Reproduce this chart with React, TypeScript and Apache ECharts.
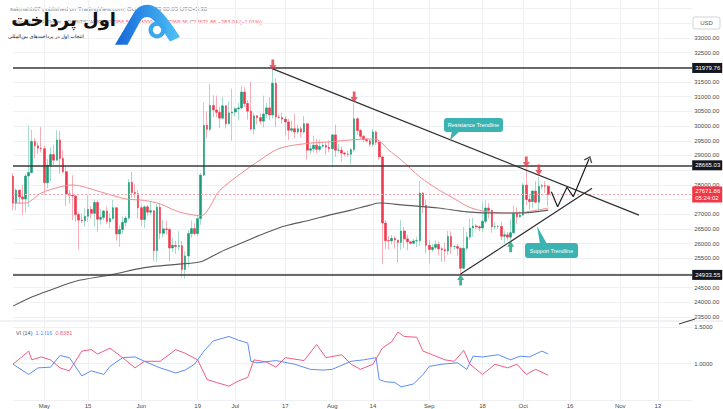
import React, { useEffect, useRef } from "react";
import * as echarts from "echarts";

// ---------- categories (daily, from 2023-04-21) ----------
const START = Date.UTC(2023, 3, 21);
const DAY = 86400000;
const N_DAYS = 218;
const categories: string[] = Array.from({ length: N_DAYS }, (_, i) =>
  new Date(START + i * DAY).toISOString().slice(0, 10)
);

// ---------- x tick labels ----------
const tickDates = [
  "2023-05-01", "2023-05-15", "2023-06-01", "2023-06-19", "2023-07-01", "2023-07-17", "2023-08-01",
  "2023-08-14", "2023-09-01", "2023-09-18", "2023-10-01", "2023-10-16", "2023-11-01", "2023-11-13",
];
const tickLabels = ["May", "15", "Jun", "19", "Jul", "17", "Aug", "14", "Sep", "18", "Oct", "16", "Nov", "13"];

// ---------- price candles [open, high, low, close], 2023-04-21 .. 2023-10-09 ----------
const ohlc: number[][] = [
  // Apr 21-30
  [28300, 28400, 27140, 27380], [27380, 27880, 27130, 27820], [27820, 27820, 27340, 27590], [27590, 28000, 26970, 27520],
  [27520, 28380, 27050, 28300], [28300, 30020, 27240, 28420], [28420, 29880, 28380, 29480], [29480, 29590, 28900, 29330],
  [29330, 29450, 29050, 29250], [29250, 29970, 29100, 29230],
  // May
  [29230, 29330, 27680, 28070], [28070, 28880, 27880, 28670], [28670, 29270, 28110, 29030], [29030, 29370, 28680, 28840],
  [28840, 29860, 28820, 29530], [29530, 29840, 28380, 28900], [28900, 29180, 28400, 28450], [28450, 28630, 27280, 27690],
  [27690, 27830, 27360, 27650], [27650, 28330, 26800, 27620], [27620, 27640, 26740, 26990], [26990, 27070, 25800, 26800],
  [26800, 27030, 26700, 26780], [26780, 27200, 26580, 26930], [26930, 27660, 26730, 27160], [27160, 27270, 26860, 27030],
  [27030, 27480, 26580, 27400], [27400, 27480, 26400, 26830], [26830, 27170, 26640, 26890], [26890, 27150, 26800, 27110],
  [27110, 27260, 26660, 26750], [26750, 27030, 26530, 26850], [26850, 27480, 26820, 27220], [27220, 27220, 26100, 26330],
  [26330, 26620, 25890, 26480], [26480, 26930, 26330, 26720], [26720, 26940, 26580, 26870], [26870, 28200, 26800, 28080],
  [28080, 28440, 27560, 27740], [27740, 28020, 27560, 27700], [27700, 27830, 26850, 27220],
  // Jun
  [27220, 27330, 26610, 26820], [26820, 27300, 26530, 27250], [27250, 27310, 26930, 27070], [27070, 27450, 26960, 27120],
  [27120, 27140, 25400, 25760], [25760, 27350, 25370, 27240], [27240, 27390, 26150, 26350], [26350, 26800, 26210, 26500],
  [26500, 26780, 26310, 26480], [26480, 26540, 25400, 25850], [25850, 26200, 25710, 25940], [25940, 26100, 25650, 25900],
  [25900, 26420, 25750, 25930], [25930, 26090, 24850, 25120], [25120, 25740, 24800, 25580], [25580, 26460, 25190, 26340],
  [26340, 26780, 26190, 26510], [26510, 26690, 26280, 26340], [26340, 26980, 26250, 26850], [26850, 28400, 26640, 28330],
  [28330, 30800, 28300, 30030], [30030, 30500, 29600, 29890], [29890, 31430, 29820, 30700], [30700, 31050, 30300, 30550],
  [30550, 31040, 30300, 30470], [30470, 30660, 29930, 30270], [30270, 31000, 30230, 30690], [30690, 30710, 29920, 30080],
  [30080, 30840, 30050, 30450], [30450, 31280, 29500, 30480],
  // Jul
  [30480, 30660, 30330, 30590], [30590, 30790, 30190, 30620], [30620, 31380, 30580, 31160], [31160, 31330, 30650, 30770],
  [30770, 30880, 30220, 30510], [30510, 31520, 29850, 29900], [29900, 30450, 29720, 30350], [30350, 30380, 30060, 30290],
  [30290, 30440, 30060, 30170], [30170, 31040, 29950, 30410], [30410, 30800, 30270, 30620], [30620, 30980, 30200, 30380],
  [30380, 31950, 30250, 31460], [31460, 31630, 29960, 30310], [30310, 30400, 30260, 30290], [30290, 30450, 30100, 30240],
  [30240, 30340, 29680, 30140], [30140, 30240, 29530, 29860], [29860, 30190, 29770, 29910], [29910, 30410, 29580, 29800],
  [29800, 30050, 29730, 29910], [29910, 29990, 29620, 29800], [29800, 30340, 29740, 30080], [30080, 30090, 28860, 29180],
  [29180, 29380, 29050, 29230], [29230, 29680, 29100, 29350], [29350, 29570, 29080, 29210], [29210, 29530, 29130, 29310],
  [29310, 29410, 29260, 29350], [29350, 29450, 29030, 29280], [29280, 29520, 29110, 29230],
  // Aug
  [29230, 29730, 28590, 29700], [29700, 30050, 28950, 29180], [29180, 29400, 29100, 29180], [29180, 29310, 28800, 29080],
  [29080, 29120, 28970, 29050], [29050, 29160, 28960, 29040], [29040, 29250, 28700, 29200], [29200, 30780, 29100, 30250],
  [30250, 30300, 29700, 29850], [29850, 29900, 29550, 29650], [29650, 29700, 29450, 29550], [29550, 29600, 29450, 29500],
  [29500, 29550, 29300, 29380], [29380, 29900, 29300, 29800], [29800, 29850, 29350, 29450], [29450, 29500, 28850, 28950],
  [28950, 29000, 25300, 26700], [26700, 26800, 25820, 26100], [26100, 26260, 25800, 26090], [26090, 26290, 25970, 26180],
  [26180, 26250, 25830, 26120], [26120, 26130, 25350, 26040], [26040, 26800, 25790, 26430], [26430, 26560, 25860, 26160],
  [26160, 26300, 25770, 26060], [26060, 26100, 25970, 26010], [26010, 26170, 25980, 26090], [26090, 26230, 25880, 26100],
  [26100, 28140, 25920, 27720], [27720, 27760, 27030, 27300], [27300, 27500, 25660, 25940],
  // Sep
  [25940, 26130, 25330, 25800], [25800, 25980, 25720, 25870], [25870, 26110, 25790, 25970], [25970, 26070, 25610, 25820],
  [25820, 25890, 25380, 25790], [25790, 26030, 25390, 25750], [25750, 26440, 25620, 26240], [26240, 26420, 25640, 25900],
  [25900, 25940, 25800, 25900], [25900, 25990, 25580, 25840], [25840, 25880, 24930, 25160], [25160, 26560, 25130, 25840],
  [25840, 26390, 25770, 26220], [26220, 26840, 26130, 26530], [26530, 26880, 26230, 26600], [26600, 26670, 26480, 26570],
  [26570, 26620, 26420, 26530], [26530, 27420, 26390, 26760], [26760, 27480, 26680, 27210], [27210, 27380, 26850, 27130],
  [27130, 27160, 26370, 26570], [26570, 26730, 26480, 26580], [26580, 26630, 26500, 26580], [26580, 26740, 26120, 26250],
  [26250, 26430, 26000, 26300], [26300, 26400, 26100, 26220], [26220, 26830, 26110, 26370], [26370, 27300, 26340, 27030],
  [27030, 27230, 26680, 26910], [26910, 27100, 26880, 26970],
  // Oct 1-9
  [26970, 28060, 26940, 27990], [27990, 28580, 27300, 27500], [27500, 27670, 27160, 27430], [27430, 27830, 27220, 27790],
  [27790, 28120, 27370, 27410], [27410, 28270, 27170, 27950], [27950, 28040, 27850, 27970], [27970, 28120, 27720, 27955],
  [27956, 28000, 27268.36, 27671.86],
];

// ---------- moving averages: [day index since 2023-04-21, value] ----------
const ma50Points: number[][] = [
  [0, 27380], [4, 27380], [9, 27720], [15, 27930], [19, 27995], [28, 27760], [36, 27520], [42, 27470], [47, 27350],
  [53, 27080], [60, 26950], [66, 27800], [73, 28400], [79, 28850], [84, 29190], [88, 29320], [95, 29420], [101, 29460],
  [108, 29530], [114, 29560], [117, 29500], [120, 29190], [124, 28850], [130, 28270], [136, 27830], [140, 27590],
  [146, 27230], [152, 27080], [159, 27040], [164, 27080], [171, 27210],
];
const ma200Points: number[][] = [
  [0, 23870], [6, 24180], [12, 24420], [20, 24720], [31, 24930], [42, 25180], [53, 25300], [60, 25380], [66, 25700],
  [73, 26020], [79, 26290], [84, 26500], [88, 26630], [95, 26800], [101, 26970], [108, 27140], [114, 27310],
  [117, 27380], [125, 27310], [136, 27210], [145, 27080], [156, 27040], [162, 27040], [171, 27140],
];

// ---------- horizontal levels ----------
const levels = [31979.76, 28665.03, 24933.55];
const lastPrice = 27671.86;
const lastPriceTimer = "05:24:02";

// ---------- drawings: [day index, price] ----------
const resistanceLine = [[83, 31950], [200, 26970]];
const supportLine = [[143, 24960], [185, 27880]];
const projection = [[172, 27767], [174, 27256], [177, 27917], [179, 27597], [184, 28870]];
const redArrows = [[83, 32080], [109, 30990], [164, 28780], [168, 28505]];
const greenArrows = [[143, 24760], [159, 25895]];

// ---------- Vortex indicator VI(14): [day index, value] ----------
const viPlus: number[][] = [
  [0, 0.99], [5, 0.85], [8, 0.94], [12, 0.95], [15, 1.11], [18, 1.08], [22, 0.83], [25, 0.9], [29, 0.85], [31, 0.96],
  [35, 1.08], [39, 1.09], [42, 1.03], [47, 0.94], [52, 0.87], [55, 0.91], [58, 0.99], [61, 1.17], [64, 1.31], [69, 1.37],
  [72, 1.32], [75, 1.28], [76, 1.03], [78, 1.01], [84, 1.04], [90, 0.99], [95, 0.92], [99, 0.91], [102, 0.92],
  [108, 1.03], [112, 1.05], [116, 1.08], [117, 0.78], [119, 0.75], [122, 0.74], [124, 0.68], [128, 0.72], [131, 0.85],
  [133, 0.96], [137, 0.99], [142, 1.01], [145, 0.92], [147, 1.1], [150, 1.09], [155, 1.12], [159, 1.05], [162, 1.1],
  [165, 1.09], [169, 1.17], [171, 1.13],
];
const viMinus: number[][] = [
  [0, 0.99], [5, 1.17], [6, 1.05], [9, 1.09], [12, 1.05], [15, 0.94], [18, 0.9], [22, 1.17], [25, 1.19], [27, 1.13],
  [31, 1.21], [35, 1.08], [39, 0.94], [42, 1.03], [47, 1.03], [52, 1.19], [55, 1.14], [59, 1.05], [62, 0.78],
  [65, 0.74], [69, 0.69], [72, 0.76], [75, 0.81], [77, 1.05], [81, 1.02], [84, 0.95], [87, 1.08], [93, 1.04],
  [97, 1.26], [100, 1.08], [105, 1.12], [108, 0.99], [111, 0.92], [115, 0.99], [118, 1.21], [121, 1.3], [123, 1.43],
  [125, 1.37], [129, 1.36], [131, 1.17], [134, 1.12], [138, 1.05], [141, 1.03], [144, 1.18], [146, 0.99], [150, 0.85],
  [154, 0.99], [158, 0.94], [161, 0.99], [164, 0.85], [167, 0.92], [171, 0.84],
];
const viLegend = { plus: "1.1316", minus: "0.8381" };

// ---------- styling ----------
const UP = "#1b9e77";
const DOWN = "#ef3b4f";
const UP_WICK = "#a8dccd";
const DOWN_WICK = "#f6afb8";
const GRID = "#eef0f4";
const FONT = "Liberation Sans";
const hiddenPriceLabels = new Set([34000, 33500, 32000, 28500, 27500, 25000]);

const LOGO_D =
  "M0,38 L15,9 C19,1 28,-1 34,5 C41,12 47,22 52,31 L44,35 C39,26 35,19 30,15 C26,11 22,13 20,17 L10,38 Z";
echarts.graphic.registerShape("logo", echarts.graphic.extendPath(LOGO_D, {}) as any);

const tickSet = new Set(tickDates);
const tickMap: Record<string, string> = {};
tickDates.forEach((d, i) => (tickMap[d] = tickLabels[i]));

const GRID_LEFT = 13;
const GRID_RIGHT = 30.8;

function buildOption(): any {
  const wickData = ohlc.map(([o, h, l, c]) => [o, c, l, h]);
  const bodyData = ohlc.map(([o, , , c]) => [o, c, Math.min(o, c), Math.max(o, c)]);

  const levelLines = levels.map((v) => ({
    yAxis: v,
    lineStyle: { color: "#3a3a3a", width: 1.5, type: "solid" },
    label: {
      show: true,
      position: "end",
      distance: 0,
      formatter: v.toFixed(2),
      backgroundColor: "#131722",
      color: "#ffffff",
      fontSize: 6,
      fontFamily: FONT,
      padding: [2, 2, 2, 3],
    },
  }));

  const lineBase = { type: "line", symbol: "none", silent: true, xAxisIndex: 0, yAxisIndex: 0 };

  return {
    animation: false,
    backgroundColor: "#ffffff",
    textStyle: { fontFamily: FONT },
    grid: [
      { left: GRID_LEFT, right: GRID_RIGHT, top: 8.63, height: 308.37 },
      { left: GRID_LEFT, right: GRID_RIGHT, top: 327, height: 74 },
      { left: GRID_LEFT, right: GRID_RIGHT, top: 0, height: 401 },
    ],
    xAxis: [
      {
        gridIndex: 0, type: "category", data: categories, boundaryGap: false,
        axisLine: { show: false }, axisTick: { show: false }, axisLabel: { show: false }, splitLine: { show: false },
      },
      {
        gridIndex: 1, type: "category", data: categories, boundaryGap: false,
        axisLine: { show: false }, axisTick: { show: false }, splitLine: { show: false },
        axisLabel: {
          show: true, interval: (_i: number, v: string) => tickSet.has(v),
          formatter: (v: string) => tickMap[v] || "", fontSize: 6, color: "#4a4a4a", margin: 3,
        },
      },
      {
        gridIndex: 2, type: "category", data: categories, boundaryGap: false,
        axisLine: { show: false }, axisTick: { show: false }, axisLabel: { show: false },
        splitLine: { show: true, interval: (_i: number, v: string) => tickSet.has(v), lineStyle: { color: GRID, width: 1 } },
      },
    ],
    yAxis: [
      {
        gridIndex: 0, type: "value", position: "right", min: 23500, max: 34000, interval: 500,
        axisLine: { show: false }, axisTick: { show: false },
        splitLine: { show: true, lineStyle: { color: GRID, width: 1 } },
        axisLabel: {
          fontSize: 6, color: "#4a4a4a", margin: 2,
          formatter: (v: number) => (hiddenPriceLabels.has(v) ? "" : v.toFixed(2)),
        },
      },
      {
        gridIndex: 1, type: "value", position: "right", min: 0.5, max: 1.5, interval: 0.5,
        axisLine: { show: false }, axisTick: { show: false },
        splitLine: { show: true, lineStyle: { color: GRID, width: 1 } },
        axisLabel: {
          fontSize: 6, color: "#4a4a4a", margin: 2,
          formatter: (v: number) => (v < 0.75 ? "" : v.toFixed(4)),
        },
      },
      { gridIndex: 2, type: "value", show: false, min: 0, max: 1 },
    ],
    series: [
      {
        type: "candlestick", name: "wicks", xAxisIndex: 0, yAxisIndex: 0, data: wickData, barWidth: 1, silent: true,
        itemStyle: { color: UP_WICK, color0: DOWN_WICK, borderColor: UP_WICK, borderColor0: DOWN_WICK, borderWidth: 1 },
      },
      {
        type: "candlestick", name: "bodies", xAxisIndex: 0, yAxisIndex: 0, data: bodyData, barWidth: 2.1, silent: true,
        itemStyle: { color: UP, color0: DOWN, borderColor: UP, borderColor0: DOWN, borderWidth: 0.6 },
      },
      { ...lineBase, name: "MA50", data: ma50Points, smooth: 0.3, lineStyle: { color: "#f28b8e", width: 1 } },
      { ...lineBase, name: "MA200", data: ma200Points, smooth: 0.3, lineStyle: { color: "#5b5b5b", width: 1.1 } },
      {
        ...lineBase, name: "levels", data: [], z: 4,
        markLine: {
          silent: true, symbol: ["none", "none"],
          data: [
            ...levelLines,
            {
              yAxis: lastPrice,
              lineStyle: { color: "#f7a3ac", width: 1, type: [2, 2] },
              label: {
                show: true, position: "end", distance: 0,
                formatter: lastPrice.toFixed(2) + "\n" + lastPriceTimer,
                backgroundColor: "#f23645", color: "#ffffff", fontSize: 6, lineHeight: 7,
                fontFamily: FONT, padding: [1, 2, 1, 3],
              },
            },
          ],
        },
      },
      { ...lineBase, name: "resistance", data: resistanceLine, z: 5, lineStyle: { color: "#2e2e2e", width: 1.2 } },
      { ...lineBase, name: "support", data: supportLine, z: 5, lineStyle: { color: "#2e2e2e", width: 1.2 } },
      { ...lineBase, name: "projection", data: projection, z: 5, lineStyle: { color: "#1e1e1e", width: 1.2 } },
      {
        type: "scatter", xAxisIndex: 0, yAxisIndex: 0, silent: true, z: 6,
        data: [projection[projection.length - 1]],
        symbol: "path://M0,10 L6,0 L12,10", symbolSize: [8, 5], symbolRotate: -23,
        itemStyle: { color: "none", borderColor: "#1e1e1e", borderWidth: 1.2 },
      },
      {
        type: "scatter", xAxisIndex: 0, yAxisIndex: 0, silent: true, z: 6, data: redArrows,
        symbol: "path://M3,0 L7,0 L7,6 L10,6 L5,12 L0,6 L3,6 Z", symbolSize: [7, 11],
        itemStyle: { color: "#e23645" },
      },
      {
        type: "scatter", xAxisIndex: 0, yAxisIndex: 0, silent: true, z: 6, data: greenArrows,
        symbol: "path://M5,0 L10,6 L7,6 L7,12 L3,12 L3,6 L0,6 Z", symbolSize: [7, 11],
        itemStyle: { color: "#14a07a" },
      },
      {
        type: "line", xAxisIndex: 1, yAxisIndex: 1, symbol: "none", silent: true, data: viPlus,
        lineStyle: { color: "#5d8df4", width: 1 },
      },
      {
        type: "line", xAxisIndex: 1, yAxisIndex: 1, symbol: "none", silent: true, data: viMinus,
        lineStyle: { color: "#ef5d84", width: 1 },
      },
    ],
    graphic: [
      { type: "line", shape: { x1: 0, y1: 321, x2: 723, y2: 321 }, style: { stroke: "#e0e3eb", lineWidth: 1 }, silent: true },
      { type: "line", shape: { x1: 679, y1: 324, x2: 695, y2: 319 }, style: { stroke: "#333", lineWidth: 1 }, silent: true },
      // header
      {
        type: "text", x: 10, y: 9, silent: true,
        style: {
          text: "sakinahb07 published on TradingView.com, Oct 10, 2023 00:05 UTC+5:30",
          fill: "#8a8a8a", fontSize: 6, fontFamily: FONT, verticalAlign: "middle",
        },
      },
      {
        type: "text", x: 14, y: 22, silent: true,
        style: {
          text: "{g|Bitcoin / U.S. Dollar, 1D, BITSTAMP}  {g|O}{r|27956.50} {g|H}{r|28000.50} {g|L}{r|27268.36} {g|C}{r|27671.86} {r|−283.04 (−1.01%)}",
          fontSize: 5.5, fontFamily: FONT, verticalAlign: "middle",
          rich: {
            g: { fill: "#8a8a8a", fontSize: 5.5, fontFamily: FONT },
            r: { fill: "#f26673", fontSize: 5.5, fontFamily: FONT },
          },
        },
      },
      // watermark logo
      {
        type: "text", x: 116, y: 19, silent: true, z: 50,
        style: {
          text: "اول پرداخت", fill: "#111111", fontSize: 18, fontWeight: "bold",
          fontFamily: "DejaVu Sans", align: "right", verticalAlign: "middle",
        },
      },
      {
        type: "text", x: 84, y: 36, silent: true, z: 50,
        style: {
          text: "انتخاب اول در پرداخت‌های بین‌المللی", fill: "#111111", fontSize: 5,
          fontFamily: "DejaVu Sans", align: "right", verticalAlign: "middle",
        },
      },
      {
        type: "logo", x: 115, y: 3, scaleX: 1.25, scaleY: 1.1, silent: true, z: 50,
        style: {
          fill: new echarts.graphic.LinearGradient(0, 0, 1, 0, [
            { offset: 0, color: "#1565d8" },
            { offset: 1, color: "#4fc3f7" },
          ]),
        },
      },
      {
        type: "ring", shape: { cx: 157, cy: 30, r: 8.5, r0: 4.2 }, silent: true, z: 50,
        style: { fill: "#3aa6ee" },
      },
      // axis unit box
      {
        type: "rect", shape: { x: 693, y: 17, width: 27, height: 12, r: 2 }, silent: true,
        style: { fill: "#ffffff", stroke: "#d0d3da", lineWidth: 1 },
      },
      {
        type: "text", x: 706.5, y: 23, silent: true,
        style: { text: "USD", fill: "#555", fontSize: 6, fontFamily: FONT, align: "center", verticalAlign: "middle" },
      },
      // callouts
      { type: "polygon", shape: { points: [[452, 131], [460, 131], [450, 140]] }, style: { fill: "#3bb3b3" }, silent: true, z: 40 },
      { type: "rect", shape: { x: 444, y: 118, width: 59, height: 14, r: 3 }, style: { fill: "#3bb3b3" }, silent: true, z: 40 },
      {
        type: "text", x: 473.5, y: 125, silent: true, z: 41,
        style: { text: "Resistance Trendline", fill: "#ffffff", fontSize: 5.5, fontFamily: FONT, align: "center", verticalAlign: "middle" },
      },
      { type: "polygon", shape: { points: [[540, 244], [547, 244], [537, 226]] }, style: { fill: "#3bb3b3" }, silent: true, z: 40 },
      { type: "rect", shape: { x: 525, y: 243, width: 53, height: 15, r: 3 }, style: { fill: "#3bb3b3" }, silent: true, z: 40 },
      {
        type: "text", x: 551.5, y: 250.5, silent: true, z: 41,
        style: { text: "Support Trendline", fill: "#ffffff", fontSize: 5.5, fontFamily: FONT, align: "center", verticalAlign: "middle" },
      },
      // VI legend
      {
        type: "text", x: 16, y: 333, silent: true,
        style: {
          text: "{g|VI (14)}  {b|" + viLegend.plus + "}  {r|" + viLegend.minus + "}",
          fontSize: 5.5, fontFamily: FONT, verticalAlign: "middle",
          rich: {
            g: { fill: "#555555", fontSize: 5.5, fontFamily: FONT },
            b: { fill: "#5d8df4", fontSize: 5.5, fontFamily: FONT },
            r: { fill: "#ef5d84", fontSize: 5.5, fontFamily: FONT },
          },
        },
      },
    ],
  };
}

export default function App() {
  const ref = useRef<HTMLDivElement>(null);
  useEffect(() => {
    document.body.style.margin = "0";
    if (!ref.current) return;
    const chart = echarts.init(ref.current, null, { renderer: "svg" });
    chart.setOption(buildOption());
    return () => chart.dispose();
  }, []);
  return <div ref={ref} style={{ width: 723, height: 409 }} />;
}
